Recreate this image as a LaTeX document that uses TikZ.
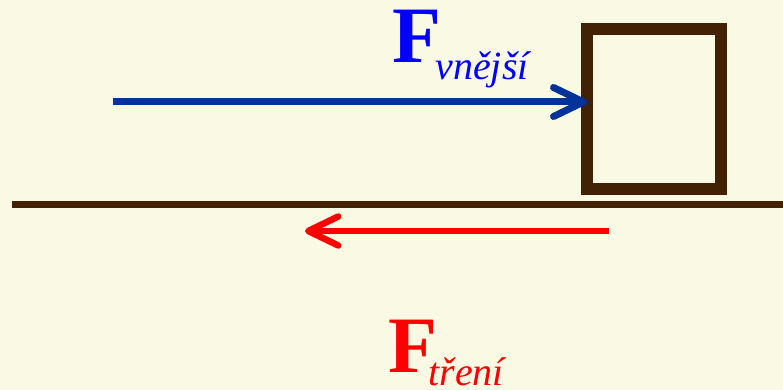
\documentclass[tikz,border=0pt]{standalone}
\usepackage{fontspec}
\setmainfont{Liberation Serif}
\usepackage{xcolor}
\usetikzlibrary{positioning, arrows.meta}

\definecolor{bgcream}{RGB}{250,250,228}
\definecolor{woodbrown}{RGB}{66,33,4}
\definecolor{pushblue}{RGB}{0,51,153}

\tikzset{
  forcelabel/.style={font=\fontsize{80}{80}\selectfont\bfseries, inner sep=0pt, anchor=base west},
  sublabel/.style={font=\fontsize{40}{40}\selectfont\itshape, inner sep=0pt, anchor=base west},
  forcearrow/.style={line width=7pt, -{Straight Barb[length=30pt, width=29pt, round]}},
}

\begin{document}
\begin{tikzpicture}[x=1pt, y=-1pt]

% Background
\fill[bgcream] (0,0) rectangle (783,390);
\useasboundingbox (0,0) rectangle (783,390);

% Ground and block
\draw[woodbrown, line width=7pt] (12,204.5) -- (783,204.5);
\node[draw=woodbrown, line width=12pt, minimum width=134pt, minimum height=160pt,
      inner sep=0pt, outer sep=0pt] (block) at (654,109) {};

% External force
\coordinate (pushstart) at (113,102);
\draw[forcearrow, pushblue] (pushstart) -- (pushstart -| block.west);
\node[forcelabel, blue] (Fpush) at (392,63) {F};
\node[sublabel, blue] (Fpushsub) at ([xshift=-6pt, yshift=-17pt]Fpush.base east) {vnější};

% Friction force
\coordinate (fricstart) at (609,231);
\coordinate (fricend) at (305,231);
\draw[forcearrow, red, line width=6.5pt] (fricstart) -- (fricend);
\node[forcelabel, red] (Ffric) at (388,372) {F};
\node[sublabel, red] (Ffricsub) at ([xshift=-9pt, yshift=-13pt]Ffric.base east) {tření};

\end{tikzpicture}
\end{document}
